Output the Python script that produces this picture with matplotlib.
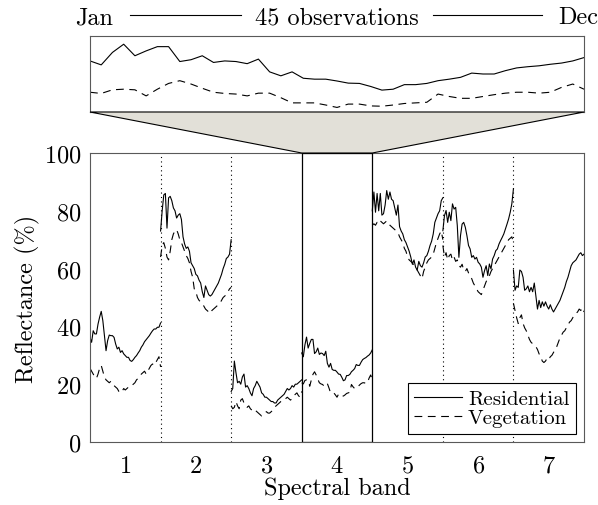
import numpy as np
import matplotlib
matplotlib.use("Agg")
import matplotlib.pyplot as plt
from matplotlib.patches import Polygon, Rectangle

plt.rcParams["font.family"] = "cmr10"
plt.rcParams["axes.formatter.use_mathtext"] = True
plt.rcParams["mathtext.fontset"] = "cm"

# reflectance (%) per spectral band, 45 observations each (Jan..Dec)
bands = [1, 2, 3, 4, 5, 6, 7]
n_obs = 45

residential = [
    [36.2, 34.5, 38.5, 37.4, 37.4, 40.8, 43.2, 45.2, 42.0, 36.8, 31.6, 35.1, 37.0, 36.8, 36.8,
     36.2, 33.9, 32.2, 32.8, 31.0, 31.6, 30.5, 29.9, 29.3, 29.3, 28.2, 27.9, 28.5, 29.3, 29.9,
     30.8, 31.6, 32.8, 33.6, 34.7, 35.4, 36.1, 36.8, 37.7, 38.5, 39.1, 39.1, 39.7, 39.7, 41.2],
    [73.0, 80.0, 85.5, 86.0, 74.0, 84.5, 85.0, 83.5, 81.0, 80.0, 77.5, 78.5, 79.0, 77.0, 71.0,
     68.5, 67.0, 67.5, 66.0, 62.0, 61.0, 60.0, 58.0, 57.5, 56.0, 55.0, 52.0, 50.0, 54.0, 52.5,
     51.0, 50.5, 51.0, 52.0, 53.0, 54.0, 55.0, 56.5, 58.0, 60.0, 61.5, 63.5, 64.0, 65.0, 70.0],
    [17.5, 18.5, 28.0, 24.0, 20.5, 21.0, 20.0, 22.5, 23.5, 19.0, 19.5, 18.5, 17.0, 16.0, 18.5,
     19.5, 21.0, 20.0, 19.0, 17.0, 16.5, 15.5, 15.5, 15.0, 14.5, 14.0, 14.0, 13.5, 13.5, 14.5,
     15.0, 15.5, 16.0, 16.5, 17.5, 18.5, 18.0, 18.5, 19.5, 19.0, 20.0, 20.0, 20.5, 21.0, 21.5],
    [30.8, 29.5, 33.6, 36.3, 32.5, 34.1, 35.5, 35.5, 30.6, 31.2, 32.5, 30.3, 30.8, 30.6, 29.9,
     31.4, 27.2, 25.9, 27.2, 25.1, 24.8, 24.8, 24.2, 23.5, 23.4, 22.4, 21.2, 21.5, 23.0, 23.0,
     23.4, 24.3, 24.8, 25.4, 26.8, 26.5, 26.5, 27.6, 28.5, 28.9, 29.2, 29.7, 30.1, 30.8, 31.9],
    [80.0, 86.5, 79.5, 86.0, 80.0, 86.0, 78.5, 79.0, 82.0, 87.0, 84.0, 86.5, 84.0, 83.5, 81.0,
     78.5, 82.0, 74.5, 73.0, 72.0, 70.0, 69.0, 67.5, 66.0, 64.0, 61.5, 63.0, 60.5, 59.5, 62.5,
     61.0, 60.5, 62.0, 64.0, 64.5, 66.0, 68.0, 69.5, 72.0, 76.0, 77.5, 79.0, 80.0, 83.5, 84.5],
    [73.1, 78.3, 80.1, 76.0, 79.5, 76.6, 82.4, 80.6, 81.2, 74.9, 63.9, 71.4, 75.4, 76.0, 74.3,
     71.4, 68.0, 66.8, 63.9, 64.5, 63.3, 63.9, 62.2, 61.6, 60.5, 57.0, 59.3, 61.0, 57.6, 61.6,
     59.9, 63.3, 64.5, 66.2, 66.8, 68.5, 69.7, 70.8, 72.0, 73.7, 75.4, 77.2, 79.5, 82.4, 87.6],
    [59.5, 52.5, 54.0, 53.5, 59.5, 59.0, 57.0, 52.5, 53.0, 54.0, 52.0, 53.5, 52.0, 55.0, 50.5,
     46.0, 49.0, 46.5, 48.5, 47.0, 48.5, 47.0, 46.0, 47.5, 46.0, 45.0, 46.0, 47.0, 48.0, 49.0,
     50.5, 52.0, 53.5, 55.5, 57.0, 59.0, 61.0, 62.0, 62.5, 63.0, 64.0, 65.0, 65.5, 64.5, 65.0],
]

vegetation = [
    [25.5, 24.5, 23.5, 22.5, 22.0, 23.5, 25.5, 26.5, 24.5, 22.5, 21.5, 21.0, 20.5, 21.0, 20.0,
     19.5, 19.0, 18.5, 17.5, 17.0, 17.5, 18.5, 18.0, 18.5, 19.0, 19.5, 19.5, 20.0, 20.5, 21.5,
     22.0, 22.5, 23.5, 24.0, 24.5, 23.5, 24.5, 25.5, 26.5, 27.0, 26.5, 27.5, 28.5, 29.5, 26.0],
    [64.0, 68.0, 69.0, 67.0, 64.0, 63.0, 66.0, 70.0, 72.0, 73.0, 73.5, 72.0, 70.0, 69.0, 67.5,
     66.0, 64.5, 63.5, 62.0, 59.0, 57.0, 53.0, 52.0, 50.0, 49.0, 48.5, 48.0, 47.0, 46.0, 45.5,
     45.0, 44.5, 45.5, 46.0, 46.5, 47.0, 47.5, 48.0, 49.0, 50.0, 50.5, 51.0, 52.0, 53.0, 53.5],
    [12.5, 11.5, 12.0, 14.0, 12.5, 11.5, 14.5, 15.0, 13.5, 13.0, 12.0, 12.5, 11.5, 11.0, 11.5,
     11.0, 10.5, 10.0, 9.5, 9.0, 9.5, 10.0, 10.5, 10.0, 10.0, 10.5, 11.0, 12.0, 12.5, 13.0,
     13.5, 14.0, 14.0, 14.5, 15.0, 15.5, 15.0, 14.5, 15.0, 16.0, 16.5, 17.0, 16.0, 15.5, 17.5],
    [20.5, 20.1, 21.3, 21.5, 21.3, 19.3, 21.5, 23.4, 24.3, 23.2, 21.8, 20.5, 20.1, 19.9, 19.3,
     20.2, 20.2, 18.7, 17.0, 17.0, 17.0, 16.3, 15.5, 16.6, 16.6, 16.0, 15.9, 16.3, 16.8, 17.0,
     17.2, 19.9, 19.1, 18.5, 18.5, 19.1, 19.7, 20.2, 20.5, 20.5, 20.2, 20.5, 22.1, 23.2, 21.5],
    [75.0, 75.5, 75.0, 76.0, 75.5, 76.5, 76.0, 75.5, 76.0, 76.5, 76.0, 75.0, 74.5, 74.0, 73.5,
     73.0, 72.5, 71.0, 70.0, 69.0, 67.0, 66.0, 64.0, 63.0, 62.5, 62.0, 61.0, 60.0, 59.5, 58.5,
     57.5, 56.5, 59.0, 60.5, 62.0, 63.0, 63.5, 64.0, 65.0, 67.0, 69.0, 70.5, 72.0, 73.0, 70.0],
    [68.0, 64.0, 65.5, 63.0, 64.5, 65.0, 63.0, 64.0, 62.5, 63.0, 61.0, 60.5, 61.5, 59.5, 59.0,
     60.0, 58.5, 57.5, 56.5, 55.0, 54.0, 53.0, 52.0, 51.5, 51.0, 52.5, 54.0, 55.5, 56.5, 57.5,
     59.0, 60.0, 61.0, 62.0, 63.0, 64.0, 65.0, 66.0, 67.0, 68.0, 69.0, 70.0, 70.5, 71.0, 69.0],
    [48.0, 45.5, 43.0, 41.0, 43.0, 44.0, 41.0, 39.5, 38.5, 37.0, 35.5, 34.5, 34.0, 33.5, 33.0,
     32.0, 30.5, 29.5, 28.0, 27.5, 28.0, 29.0, 28.5, 29.5, 30.0, 31.0, 32.0, 33.0, 34.5, 36.0,
     37.0, 38.0, 38.5, 39.5, 40.5, 41.5, 42.0, 43.0, 44.0, 44.5, 45.0, 46.0, 45.5, 46.5, 45.0],
]

zoom_band = 4
dash = (0, (7, 5))
fs = 17.5
fs_leg = 15

fig = plt.figure(figsize=(5.98, 5.06), dpi=100)
W, H = 598, 506
ax = fig.add_axes([90 / W, (H - 443) / H, 494 / W, 289 / H])
axz = fig.add_axes([90 / W, (H - 113) / H, 494 / W, 76 / H])

# main plot: each band drawn over its own unit-wide slot
frac = np.arange(n_obs) / (n_obs - 1)
for k, b in enumerate(bands):
    xs = b - 0.5 + frac
    ax.plot(xs, residential[k], color="black", lw=0.8,
            label="Residential" if k == 0 else None)
    ax.plot(xs, vegetation[k], color="black", lw=0.8, linestyle=dash,
            label="Vegetation" if k == 0 else None)

for b in bands[:-1]:
    if b + 0.5 in (zoom_band - 0.5, zoom_band + 0.5):
        continue
    ax.axvline(b + 0.5, color="black", lw=0.8, linestyle=(0, (1, 3)))

ax.add_patch(Rectangle((zoom_band - 0.5, 0), 1, 100, fill=False,
                       edgecolor="black", lw=0.9, zorder=5))

ax.set_xlim(0.5, 7.5)
ax.set_ylim(0, 100)
ax.set_xticks(bands)
ax.set_yticks([0, 20, 40, 60, 80, 100])
ax.tick_params(length=0, labelsize=fs)
ax.tick_params(axis="x", pad=9)
ax.tick_params(axis="y", pad=6)
ax.set_xlabel("Spectral band", fontsize=fs, labelpad=0)
ax.set_ylabel("Reflectance (%)", fontsize=fs, labelpad=3)
for s in ax.spines.values():
    s.set_color("0.35")
leg = ax.legend(loc="lower right", fontsize=fs_leg, frameon=True, fancybox=False,
                edgecolor="black", framealpha=1, borderpad=0.3, labelspacing=0.05,
                handlelength=2.3, handletextpad=0.3, borderaxespad=0.4)
leg.get_frame().set_linewidth(0.8)

# zoomed band over the year
idx = np.arange(n_obs)
axz.plot(idx, residential[zoom_band - 1], color="black", lw=0.8)
axz.plot(idx, vegetation[zoom_band - 1], color="black", lw=0.8, linestyle=dash)
axz.set_xlim(0, n_obs - 1)
axz.set_ylim(14, 39)
axz.set_xticks([])
axz.set_yticks([])
for s in axz.spines.values():
    s.set_color("0.35")

# connector between the inset and the highlighted band
inv = fig.transFigure.inverted()
p1 = inv.transform(axz.transAxes.transform((0, 0)))
p2 = inv.transform(axz.transAxes.transform((1, 0)))
p3 = inv.transform(ax.transData.transform((zoom_band + 0.5, 100)))
p4 = inv.transform(ax.transData.transform((zoom_band - 0.5, 100)))
fig.patches.append(Polygon([p1, p2, p3, p4], closed=True, transform=fig.transFigure,
                           facecolor="#e2e0d8", edgecolor="black", lw=0.8))

# header above the inset
fig.text(94 / W, 1 - 18 / H, "Jan", fontsize=fs, ha="center", va="center")
fig.text(337 / W, 1 - 18 / H, "45 observations", fontsize=fs, ha="center", va="center")
fig.text(578 / W, 1 - 18 / H, "Dec", fontsize=fs, ha="center", va="center")
fig.lines.append(plt.Line2D([130 / W, 241 / W], [1 - 16 / H] * 2, color="black", lw=0.8,
                            transform=fig.transFigure))
fig.lines.append(plt.Line2D([433 / W, 542 / W], [1 - 16 / H] * 2, color="black", lw=0.8,
                            transform=fig.transFigure))

fig.savefig("out.png", dpi=100)
